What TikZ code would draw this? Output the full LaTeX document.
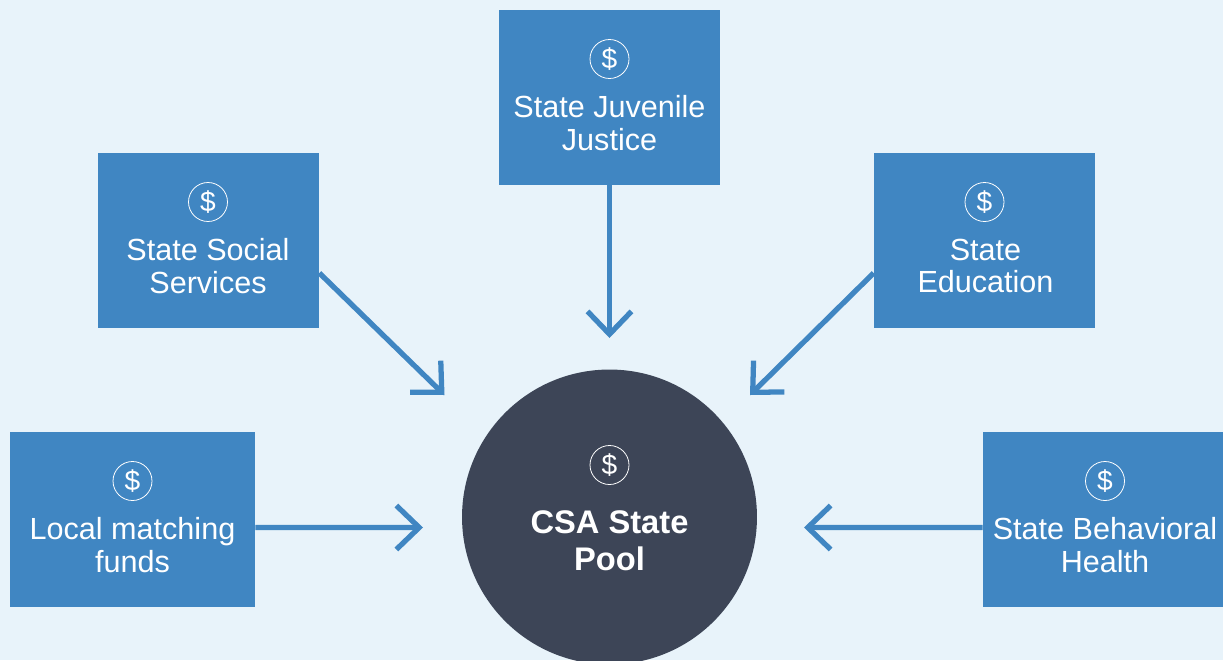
\documentclass[tikz,border=0pt]{standalone}
\usepackage{fontspec}
\setmainfont{Liberation Sans}
\usetikzlibrary{arrows.meta}
\definecolor{poolbg}{HTML}{E8F3FA}
\definecolor{fundblue}{HTML}{4086C2}
\definecolor{pooldark}{HTML}{3D4557}
\begin{document}
\begin{tikzpicture}[x=0.02cm,y=0.02cm,
	fundbox/.style={rectangle,fill=fundblue,inner sep=0pt,minimum height=3.5cm},
	fundlabel/.style={text=white,align=center,inner sep=0pt,font=\fontsize{17.4}{18.7}\selectfont},
	dollar/.style={circle,draw=white,line width=0.45pt,minimum size=0.78cm,inner sep=0pt,text=white,font=\fontsize{16}{16}\selectfont},
	feed/.style={draw=fundblue,line width=3pt,-{Straight Barb[length=13pt,width=25pt]}}]
	\useasboundingbox (0,0) rectangle (1223,-660);
	\clip (0,0) rectangle (1223,-660);
	\fill [poolbg] (0,0) rectangle (1223,-660);
	% funding boxes
	\node (juvenile) [fundbox,minimum width=4.42cm] at (609.5,-97.5) {};
	\node (social) [fundbox,minimum width=4.42cm] at (208.5,-240.5) {};
	\node (education) [fundbox,minimum width=4.42cm] at (984.5,-240.5) {};
	\node (local) [fundbox,minimum width=4.9cm] at (132.5,-519.5) {};
	\node (behavioral) [fundbox,minimum width=4.8cm] at (1103,-519.5) {};
	\node (pool) [circle,fill=pooldark,inner sep=0pt,minimum size=5.9cm] at (609.5,-517) {};
	% icons
	\node (juvenileicon) [dollar] at (609.5,-59) {\$};
	\node (socialicon) [dollar] at (208,-202) {\$};
	\node (educationicon) [dollar] at (984.5,-202) {\$};
	\node (localicon) [dollar] at (132.5,-481) {\$};
	\node (behavioralicon) [dollar] at (1105,-481) {\$};
	\node (poolicon) [dollar] at (609.5,-465) {\$};
	% labels
	\node (juvenilelabel) [fundlabel] at (609.5,-123) {State Juvenile\\Justice};
	\node (sociallabel) [fundlabel] at (208,-266) {State Social\\Services};
	\node (educationlabel) [fundlabel] at (985.5,-266) {State\\Education};
	\node (locallabel) [fundlabel] at (132.5,-545) {Local matching\\funds};
	\node (behavioralabel) [fundlabel] at (1105,-545) {State Behavioral\\Health};
	\node (poollabel) [text=white,align=center,inner sep=0pt,font=\fontsize{18.6}{21}\selectfont\bfseries] at (609.5,-540.5) {CSA State\\Pool};
	% arrow ends
	\coordinate (juveniletip) at (609.5,-338);
	\coordinate (socialtip) at (444.5,-395);
	\coordinate (educationtip) at (750,-395);
	\coordinate (localtip) at (423,-527.5);
	\coordinate (behavioraltip) at (804,-527.5);
	\draw [feed] (juvenile) -- (juveniletip);
	\draw [feed] ([yshift=-0.65cm]social.east) -- (socialtip);
	\draw [feed] ([yshift=-0.65cm]education.west) -- (educationtip);
	\draw [feed] ([yshift=-0.16cm]local.east) -- (localtip);
	\draw [feed] ([yshift=-0.16cm]behavioral.west) -- (behavioraltip);
\end{tikzpicture}
\end{document}
